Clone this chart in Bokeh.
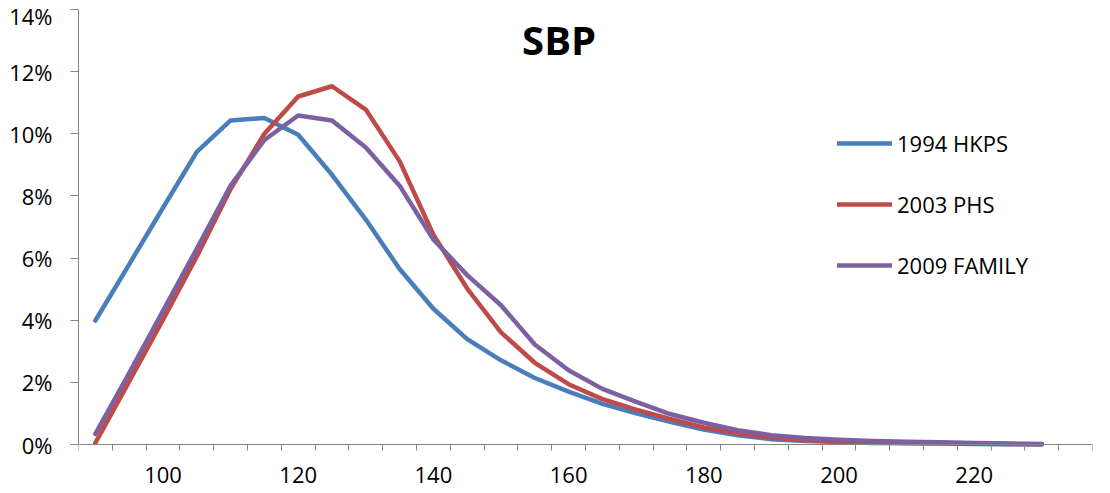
from bokeh.plotting import figure
from bokeh.models import (FixedTicker, PrintfTickFormatter, Legend, LegendItem,
                          Label, Range1d, LinearAxis)
from bokeh.embed import file_html
from bokeh.resources import INLINE
from bokeh.core.properties import value

# ---- data (percent of population per 5 mmHg SBP category) ----
sbp = [90, 95, 100, 105, 110, 115, 120, 125, 130, 135, 140, 145, 150, 155,
       160, 165, 170, 175, 180, 185, 190, 195, 200, 205, 210, 215, 220, 225, 230]
hkps_1994 = [3.99, 5.80, 7.62, 9.42, 10.43, 10.51, 9.97, 8.68, 7.24, 5.65,
             4.37, 3.39, 2.71, 2.14, 1.70, 1.31, 1.00, 0.73, 0.48, 0.30,
             0.17, 0.11, 0.08, 0.05, 0.04, 0.03, 0.02, 0.01, 0.01]
phs_2003 = [0.05, 2.03, 4.02, 6.05, 8.22, 10.00, 11.20, 11.53, 10.78, 9.12,
            6.75, 5.02, 3.61, 2.63, 1.94, 1.46, 1.12, 0.82, 0.55, 0.36,
            0.22, 0.14, 0.10, 0.08, 0.05, 0.04, 0.03, 0.02, 0.01]
family_2009 = [0.34, 2.30, 4.30, 6.30, 8.33, 9.80, 10.59, 10.43, 9.56, 8.33,
               6.60, 5.45, 4.48, 3.22, 2.39, 1.79, 1.37, 0.98, 0.70, 0.46,
               0.30, 0.21, 0.15, 0.11, 0.09, 0.07, 0.05, 0.03, 0.02]
series_names = ["1994 HKPS", "2003 PHS", "2009 FAMILY"]
x_tick_labels = [100, 120, 140, 160, 180, 200, 220]
y_tick_values = [0, 2, 4, 6, 8, 10, 12, 14]
title_text = "SBP"

colors = ["#4A7EBB", "#BE4B48", "#7D60A0"]
FONT = "Open Sans"
AXIS_COLOR = "#868686"

# geometry (pixels)
CANVAS_W, CANVAS_H = 1094, 487
BORDER_L, BORDER_R, BORDER_T = 78, 2, 9
FRAME_H = CANVAS_H - BORDER_T
PX_0_TO_14 = 435                 # 0%..14% span in px
BELOW_ZERO_PX = FRAME_H - PX_0_TO_14
LABEL_BASELINE_PX = 30           # x labels placement under the axis

Y_MAX = y_tick_values[-1]
px_per_unit = PX_0_TO_14 / Y_MAX
y_min = -BELOW_ZERO_PX / px_per_unit

half = (sbp[1] - sbp[0]) / 2.0
x_start = sbp[0] - half
x_end = sbp[-1] + 3 * half          # one empty category after the last one
category_edges = [v - half for v in sbp] + [sbp[-1] + half, x_end]

p = figure(width=CANVAS_W, height=CANVAS_H,
           output_backend="svg", toolbar_location=None,
           x_axis_location=None,
           x_range=Range1d(x_start, x_end), y_range=Range1d(y_min, Y_MAX),
           min_border_left=BORDER_L, min_border_right=BORDER_R,
           min_border_top=BORDER_T, min_border_bottom=0)
p.outline_line_color = None
p.background_fill_color = "white"
p.border_fill_color = "white"
p.xgrid.visible = False
p.ygrid.visible = False

renderers = []
for ys, c in zip([hkps_1994, phs_2003, family_2009], colors):
    r = p.line(sbp, ys, line_color=c, line_width=4.5,
               line_cap="round", line_join="round")
    renderers.append(r)

# x axis drawn at y = 0 (category style: ticks on category boundaries)
xa = LinearAxis(fixed_location=0,
                ticker=FixedTicker(ticks=[], minor_ticks=category_edges),
                axis_line_color=AXIS_COLOR, axis_line_width=1,
                major_tick_out=0, major_tick_in=0, major_label_standoff=0,
                axis_label_standoff=0,
                minor_tick_line_color=AXIS_COLOR,
                minor_tick_out=0, minor_tick_in=6)
p.add_layout(xa, "above")

# category labels centred in their category, under the axis
p.text(x=x_tick_labels, y=[-LABEL_BASELINE_PX / px_per_unit] * len(x_tick_labels),
       text=[str(v) for v in x_tick_labels],
       text_font=value(FONT), text_font_size="22px", text_color="black",
       text_align="center", text_baseline="alphabetic")

ya = p.yaxis[0]
ya.bounds = (0, Y_MAX)
ya.ticker = FixedTicker(ticks=y_tick_values)
ya.formatter = PrintfTickFormatter(format="%d%%")
ya.axis_line_color = AXIS_COLOR
ya.axis_line_width = 1
ya.major_tick_line_color = AXIS_COLOR
ya.major_tick_out = 8
ya.major_tick_in = 0
ya.minor_tick_line_color = None
ya.major_label_standoff = 18
ya.major_label_text_font = FONT
ya.major_label_text_font_size = "22px"
ya.major_label_text_color = "black"

title = Label(x=158.6, y=13.04, text=title_text, text_font=FONT,
              text_font_style="bold", text_font_size="40px",
              text_align="center", text_baseline="middle", text_color="black")
p.add_layout(title)

legend = Legend(items=[LegendItem(label=n, renderers=[r])
                       for n, r in zip(series_names, renderers)],
                location=(759, 207), orientation="vertical",
                glyph_width=55, glyph_height=30, label_height=30,
                spacing=31, padding=0, margin=0, label_standoff=5,
                border_line_color=None, background_fill_alpha=0,
                label_text_font=FONT, label_text_font_size="22px",
                label_text_color="black")
p.add_layout(legend)

open("out.html", "w").write(file_html(p, INLINE))
